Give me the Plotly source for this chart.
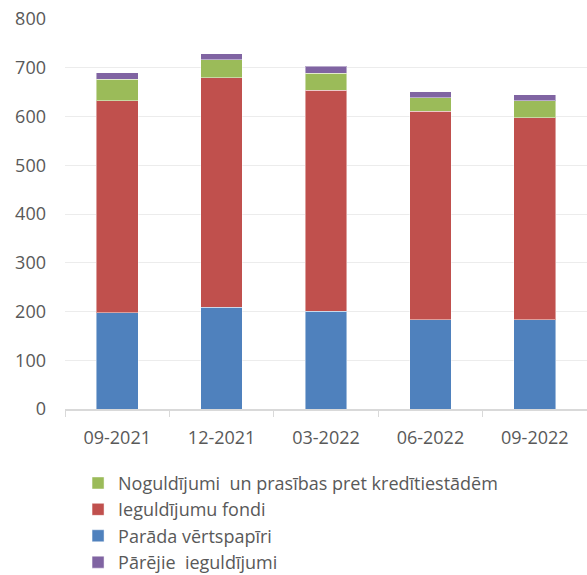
import plotly.graph_objects as go

# Quarter-end periods
periods = ["09-2021", "12-2021", "03-2022", "06-2022", "09-2022"]

# Portfolio components (stacked bottom to top)
paradas_vertspapiri = [197, 209, 201, 183, 183]
ieguldijumu_fondi = [435, 471, 453, 428, 414]
noguldijumi = [44, 36, 35, 27, 35]
parejie = [14, 13, 14, 13, 13]

y_ticks = [0, 100, 200, 300, 400, 500, 600, 700, 800]

series = [
    ("Parāda vērtspapīri", paradas_vertspapiri, "#4F81BD", 3),
    ("Ieguldījumu fondi", ieguldijumu_fondi, "#C0504D", 2),
    ("Noguldījumi  un prasības pret kredītiestādēm", noguldijumi, "#9BBB59", 1),
    ("Pārējie  ieguldījumi", parejie, "#8064A2", 4),
]

fig = go.Figure()
for name, vals, color, rank in series:
    fig.add_trace(go.Bar(
        x=periods, y=vals, name=name,
        marker=dict(color=color, line=dict(color="rgba(255,255,255,0.45)", width=1)),
        legendrank=rank,
    ))

text_color = "#595959"
fig.update_layout(
    barmode="stack",
    bargap=0.6,
    width=587, height=575,
    margin=dict(l=65, r=0, t=19, b=166, autoexpand=False),
    plot_bgcolor="white", paper_bgcolor="white",
    font=dict(family="Open Sans", size=18, color=text_color),
    xaxis=dict(
        showgrid=False,
        showline=True, linecolor="#d9d9d9", linewidth=1.5,
        ticks="outside", tickson="boundaries", ticklen=6, tickcolor="#d9d9d9",
        ticklabelstandoff=12,
        tickfont=dict(size=18, color=text_color),
    ),
    yaxis=dict(
        range=[0, 800], tickvals=y_ticks,
        showgrid=True, gridcolor="#ececec", gridwidth=1,
        zeroline=False, showline=False,
        ticks="", ticklabelstandoff=18,
        tickfont=dict(size=18, color=text_color),
    ),
    legend=dict(
        orientation="v", x=0.025, xanchor="left", y=-0.143, yanchor="top",
        traceorder="normal",
        font=dict(size=18, color=text_color),
        tracegroupgap=0, itemwidth=30,
        bgcolor="rgba(0,0,0,0)",
    ),
    showlegend=True,
)

fig.write_html("out.html")
